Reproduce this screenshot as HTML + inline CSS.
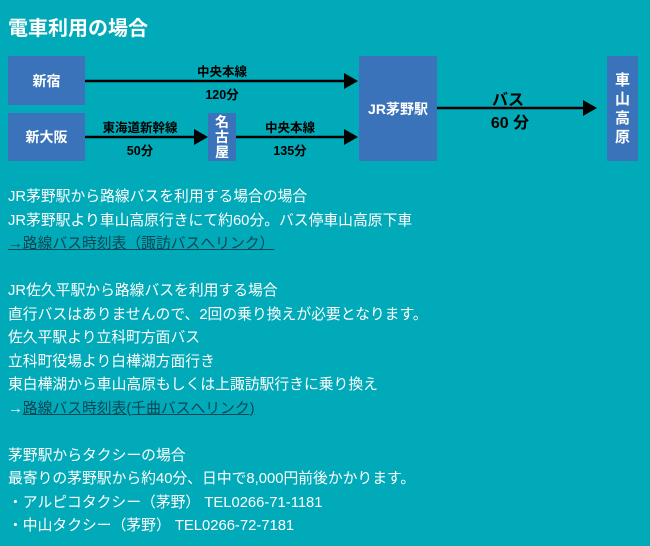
<!DOCTYPE html>
<html><head><meta charset="utf-8"><style>
html,body{margin:0;padding:0}
body{width:650px;height:546px;background:#00aab8;position:relative;overflow:hidden;font-family:"Liberation Sans","Noto Sans CJK JP",sans-serif;color:#fff}
.a{position:absolute}
.box{position:absolute;background:#3a73b9;color:#fff;font-weight:bold;font-size:14px;display:flex;align-items:center;justify-content:center;text-align:center}
.lbl{position:absolute;color:#000;font-size:12.5px;font-weight:bold;text-align:center;transform:translateX(-50%);white-space:nowrap}
.txt{position:absolute;left:8px;top:186px;font-size:14.8px;line-height:23.5px;white-space:nowrap}
.lk{color:#0b4656;text-decoration:underline}
</style></head><body>
<div class="a" style="left:8px;top:12px;font-size:20px;font-weight:bold">電車利用の場合</div>
<div class="box" style="left:8px;top:56px;width:77px;height:49px">新宿</div>
<div class="box" style="left:8px;top:113px;width:77px;height:48px">新大阪</div>
<div class="box" style="left:208px;top:113px;width:28px;height:48px;line-height:15px;font-size:14px">名<br>古<br>屋</div>
<div class="box" style="left:359px;top:56px;width:78px;height:105px">JR茅野駅</div>
<div class="box" style="left:607px;top:56px;width:31px;height:105px;line-height:19px;font-size:15px">車<br>山<br>高<br>原</div>
<svg class="a" style="left:0;top:0" width="650" height="546">
<g stroke="#000" stroke-width="2.5"><line x1="85" y1="81" x2="345" y2="81"/><line x1="85" y1="137" x2="195" y2="137"/><line x1="236" y1="137" x2="345" y2="137"/><line x1="437" y1="108" x2="584" y2="108"/></g>
<g fill="#000"><polygon points="344,73 358,81 344,89"/><polygon points="194,129 208,137 194,145"/><polygon points="344,129 358,137 344,145"/><polygon points="583,100 597,108 583,116"/></g>
</svg>
<div class="lbl" style="left:222px;top:61px">中央本線</div>
<div class="lbl" style="left:222px;top:84px">120分</div>
<div class="lbl" style="left:140px;top:117px">東海道新幹線</div>
<div class="lbl" style="left:140px;top:140px">50分</div>
<div class="lbl" style="left:290px;top:117px">中央本線</div>
<div class="lbl" style="left:290px;top:140px">135分</div>
<div class="lbl" style="left:508px;top:86px;font-size:16px">バス</div>
<div class="lbl" style="left:510px;top:109px;font-size:16px">60 分</div>
<div class="txt">JR茅野駅から路線バスを利用する場合の場合<br>JR茅野駅より車山高原行きにて約60分。バス停車山高原下車<br><span class="lk">→路線バス時刻表（諏訪バスへリンク）</span><br><br>JR佐久平駅から路線バスを利用する場合<br>直行バスはありませんので、2回の乗り換えが必要となります。<br>佐久平駅より立科町方面バス<br>立科町役場より白樺湖方面行き<br>東白樺湖から車山高原もしくは上諏訪駅行きに乗り換え<br>→<span class="lk">路線バス時刻表(千曲バスへリンク)</span><br><br>茅野駅からタクシーの場合<br>最寄りの茅野駅から約40分、日中で8,000円前後かかります。<br>・アルピコタクシー（茅野） TEL0266-71-1181<br>・中山タクシー（茅野） TEL0266-72-7181</div>
</body></html>
